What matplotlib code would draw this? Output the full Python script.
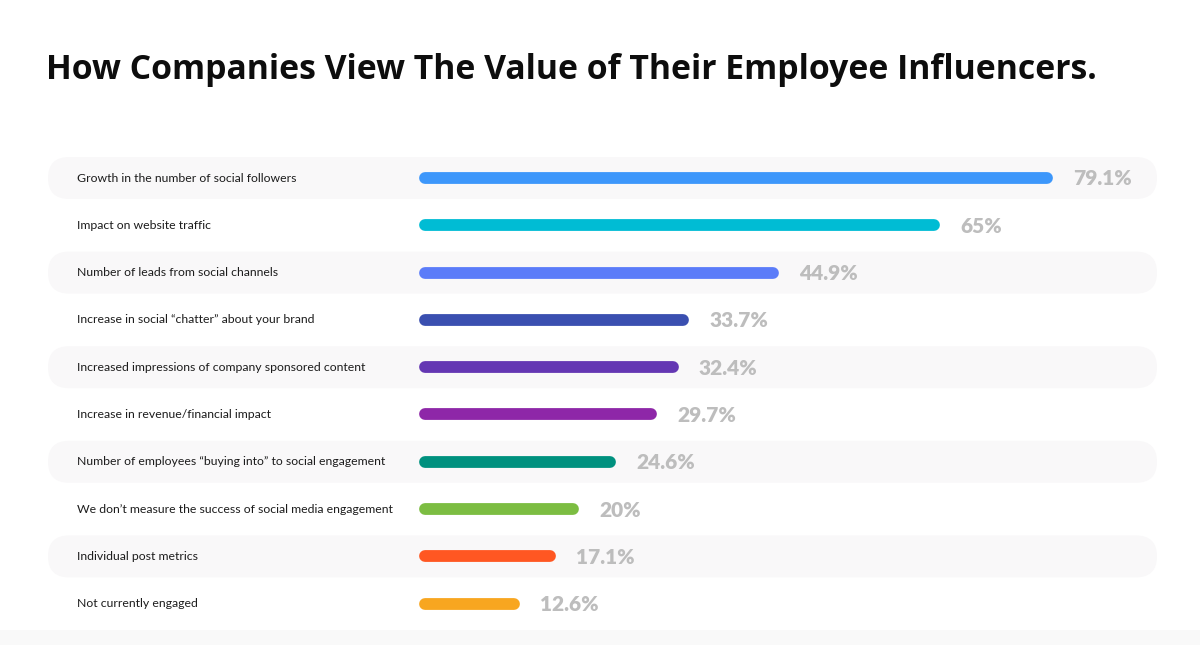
import matplotlib

matplotlib.use("Agg")
import matplotlib.pyplot as plt
from matplotlib.patches import FancyBboxPatch, Rectangle

TITLE = "How Companies View The Value of Their Employee Influencers."

categories = [
    "Growth in the number of social followers",
    "Impact on website traffic",
    "Number of leads from social channels",
    "Increase in social \u201cchatter\u201d about your brand",
    "Increased impressions of company sponsored content",
    "Increase in revenue/financial impact",
    "Number of employees \u201cbuying into\u201d to social engagement",
    "We don\u2019t measure the success of social media engagement",
    "Individual post metrics",
    "Not currently engaged",
]
values = [79.1, 65, 44.9, 33.7, 32.4, 29.7, 24.6, 20, 17.1, 12.6]
value_labels = ["79.1%", "65%", "44.9%", "33.7%", "32.4%", "29.7%", "24.6%", "20%", "17.1%", "12.6%"]
colors = ["#3d97fb", "#00bcd4", "#5b7cf9", "#3a4fb0", "#6437b3", "#8e27a8",
          "#00917f", "#7cbd42", "#ff5722", "#f8a620"]

# pixel geometry of the reference (1200 x 645)
W, H = 1200, 645
X0, PX_PER_PCT = 419, 8.015      # bar origin and scale
Y0, ROW = 178, 47.3              # first row centre and row pitch
BAR_LW = 8.5                     # points
CAP = BAR_LW / 2 * 100 / 72 / PX_PER_PCT   # round cap radius in data units

fig = plt.figure(figsize=(W / 100, H / 100), dpi=100)
fig.patch.set_facecolor("white")
ax = fig.add_axes([0, 0, 1, 1])
ax.set_xlim(-X0 / PX_PER_PCT, (W - X0) / PX_PER_PCT)
ax.set_ylim((H - Y0) / ROW, -Y0 / ROW)
ax.axis("off")


def px_x(p):
    return (p - X0) / PX_PER_PCT


# faint footer band
ax.add_patch(Rectangle((px_x(0), (630 - Y0) / ROW), W / PX_PER_PCT, 1,
                       facecolor="#f9f9f9", edgecolor="none", zorder=0))

# alternating rounded row bands
band_h = 42 / ROW
for i in range(0, len(categories), 2):
    ax.add_patch(FancyBboxPatch(
        (px_x(48), i - band_h / 2), px_x(1157) - px_x(48), band_h,
        boxstyle=f"round,pad=0,rounding_size={21 / PX_PER_PCT}",
        mutation_aspect=PX_PER_PCT / ROW,
        facecolor="#f9f8f9", edgecolor="none", zorder=1))

for i, (cat, v, lab, c) in enumerate(zip(categories, values, value_labels, colors)):
    # inset by the cap radius so the rounded bar spans exactly 0..v
    ax.plot([CAP, v - CAP], [i, i], color=c, lw=BAR_LW, solid_capstyle="round", zorder=3)
    ax.text(px_x(77), i, cat, ha="left", va="center", fontsize=8.8,
            family="Lato", color="#1c1c1c", zorder=4)
    ax.text(v + 20 / PX_PER_PCT, i + 0.02, lab, ha="left", va="center", fontsize=15,
            family="Lato", fontweight="heavy", color="#bdbdbd", zorder=4)

fig.text(46 / W, 1 - 70 / H, TITLE, ha="left", va="center", fontsize=24.3,
         family="Open Sans", fontweight="bold", color="#0d0d0d")

fig.savefig("out.png", dpi=100, facecolor="white")
